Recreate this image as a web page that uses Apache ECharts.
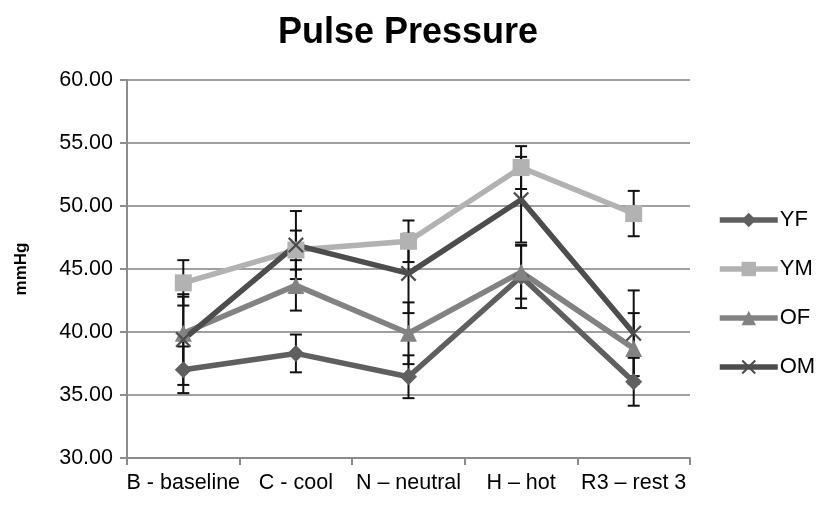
<!DOCTYPE html>
<html>
<head>
<meta charset="utf-8">
<script src="https://cdn.jsdelivr.net/npm/echarts@6/dist/echarts.min.js"></script>
<style>
  html, body { margin: 0; padding: 0; background: #fff; }
  #chart { width: 816px; height: 513px; }
</style>
</head>
<body>
<div id="chart"></div>
<script>
// categories and values
var categories = ["B - baseline", "C - cool", "N \u2013 neutral", "H \u2013 hot", "R3 \u2013 rest 3"];
var seriesNames = ["YF", "YM", "OF", "OM"];
var yf = [37.0, 38.3, 36.45, 44.4, 36.05];
var ym = [43.9, 46.5, 47.2, 53.05, 49.4];
var of = [39.9, 43.7, 39.9, 44.75, 38.7];
var om = [39.4, 46.9, 44.65, 50.5, 39.9];
// error bar half-widths
var yfErr = [1.85, 1.5, 1.7, 2.5, 1.9];
var ymErr = [1.8, 1.55, 1.65, 1.7, 1.8];
var ofErr = [2.9, 2.0, 2.45, 2.1, 2.8];
var omErr = [3.6, 2.7, 3.15, 3.4, 3.4];
var yTicks = [30, 35, 40, 45, 50, 55, 60];

var font = "'Liberation Sans', Arial, sans-serif";
var colors = ["#5f5f5f", "#b2b2b2", "#828282", "#4d4d4d"];
var crossPath = "path://M0,1L1,0L5,4L9,0L10,1L6,5L10,9L9,10L5,6L1,10L0,9L4,5Z";
var symbols = ["diamond", "rect", "triangle", crossPath];
var symbolSizes = [17, 17, 17, 16];
var values = [yf, ym, of, om];
var errs = [yfErr, ymErr, ofErr, omErr];

var myChart = echarts.init(document.getElementById("chart"));

var series = [];
// error bars first so the lines sit on top
values.forEach(function (vals, s) {
  var data = vals.map(function (v, i) {
    return [i, v - errs[s][i], v + errs[s][i]];
  });
  series.push({
    type: "custom",
    name: seriesNames[s] + " err",
    z: 1,
    silent: true,
    data: data,
    renderItem: function (params, api) {
      var lo = api.coord([api.value(0), api.value(1)]);
      var hi = api.coord([api.value(0), api.value(2)]);
      var w = 6;
      var style = { stroke: "#111", lineWidth: 2 };
      return {
        type: "group",
        children: [
          { type: "line", shape: { x1: hi[0], y1: hi[1], x2: lo[0], y2: lo[1] }, style: style },
          { type: "line", shape: { x1: hi[0] - w, y1: hi[1], x2: hi[0] + w, y2: hi[1] }, style: style },
          { type: "line", shape: { x1: lo[0] - w, y1: lo[1], x2: lo[0] + w, y2: lo[1] }, style: style }
        ]
      };
    }
  });
});

values.forEach(function (vals, s) {
  series.push({
    type: "line",
    name: seriesNames[s],
    z: 2,
    data: vals,
    symbol: symbols[s],
    symbolSize: symbolSizes[s],
    showAllSymbol: true,
    lineStyle: { color: colors[s], width: 5.5 },
    itemStyle: { color: colors[s] }
  });
});

var option = {
  animation: false,
  backgroundColor: "#fff",
  title: {
    text: "Pulse Pressure",
    left: "center",
    top: 10,
    textStyle: { fontFamily: font, fontSize: 36, fontWeight: "bold", color: "#000" }
  },
  legend: {
    data: seriesNames,
    orient: "vertical",
    left: 712,
    top: 204,
    itemWidth: 58,
    itemHeight: 18,
    itemGap: 27,
    lineStyle: { width: 5.5 },
    textStyle: { fontFamily: font, fontSize: 22, color: "#000", padding: [0, 0, 0, -3] }
  },
  grid: { left: 127, right: 126, top: 80, bottom: 55 },
  xAxis: {
    type: "category",
    data: categories,
    boundaryGap: true,
    axisLine: { lineStyle: { color: "#8c8c8c", width: 2 } },
    axisTick: { show: true, length: 7, interval: 0, lineStyle: { color: "#8c8c8c", width: 2 } },
    axisLabel: { interval: 0, margin: 14, fontFamily: font, fontSize: 21.5, color: "#000" }
  },
  yAxis: {
    type: "value",
    min: yTicks[0],
    max: yTicks[yTicks.length - 1],
    interval: 5,
    name: "mmHg",
    nameLocation: "middle",
    nameRotate: 90,
    nameGap: 97,
    nameTextStyle: { fontFamily: font, fontSize: 17, fontWeight: "bold", color: "#000" },
    axisLine: { show: true, lineStyle: { color: "#8c8c8c", width: 2 } },
    axisTick: { show: true, length: 7, lineStyle: { color: "#8c8c8c", width: 2 } },
    splitLine: { lineStyle: { color: "#a0a0a0", width: 2 } },
    axisLabel: {
      margin: 14,
      fontFamily: font,
      fontSize: 21.5,
      color: "#000",
      formatter: function (v) { return v.toFixed(2); }
    }
  },
  series: series
};

myChart.setOption(option);
</script>
</body>
</html>
